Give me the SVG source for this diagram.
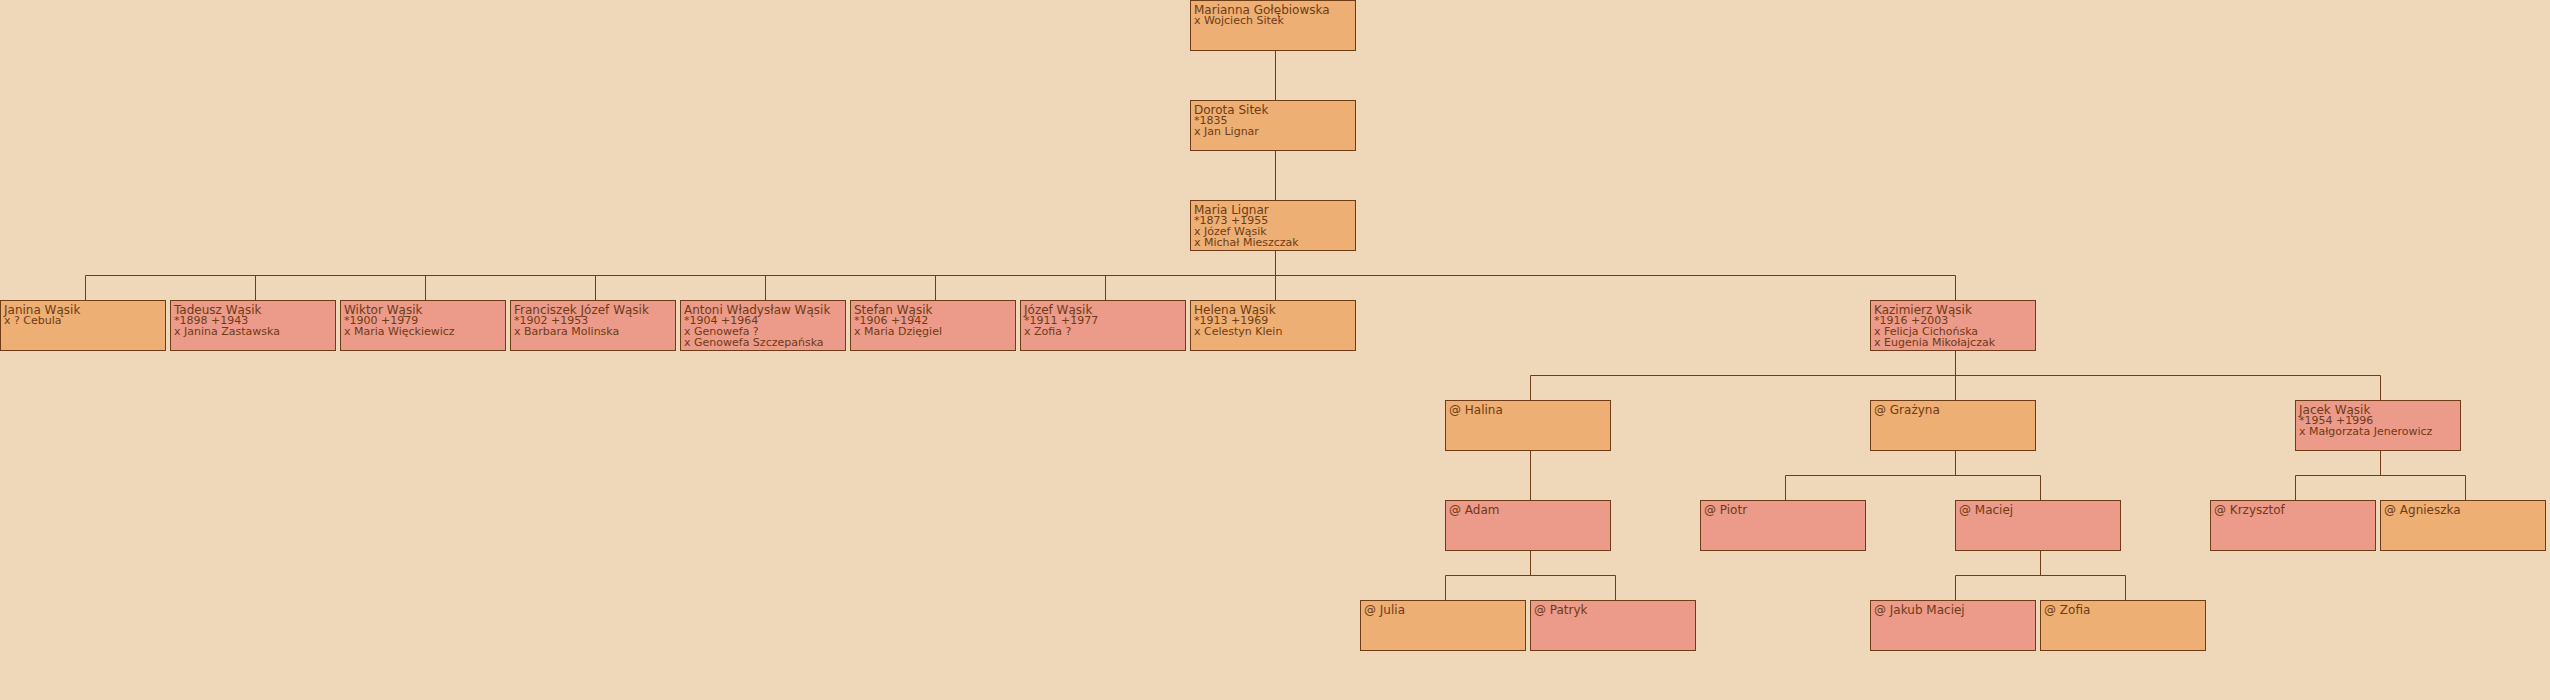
<svg xmlns="http://www.w3.org/2000/svg" width="2550" height="700" viewBox="0 0 2550 700">
<style>
.bg{fill:#EED8B9}
.n rect{stroke:#6E3C16;stroke-width:1}
.f rect{fill:#EDAF74}
.m rect{fill:#EC9A89}
.n text{font-family:"DejaVu Sans",sans-serif;fill:#6E3C16}
.t1{font-size:12px}
.t2{font-size:11px}
#connectors path{fill:none;stroke:#6E3C16;stroke-width:1}
</style>
<rect class="bg" x="0" y="0" width="2550" height="700"/>
<g id="connectors">
<path d="M1275.5 50.5V100.5M1275.5 150.5V200.5M1275.5 250.5V275.5"/>
<path d="M85.5 275.5H1955.5M85.5 275.5V300.5M255.5 275.5V300.5M425.5 275.5V300.5M595.5 275.5V300.5M765.5 275.5V300.5M935.5 275.5V300.5M1105.5 275.5V300.5M1275.5 275.5V300.5M1955.5 275.5V300.5"/>
<path d="M1955.5 350.5V375.5M1530.5 375.5H2380.5M1530.5 375.5V400.5M1955.5 375.5V400.5M2380.5 375.5V400.5"/>
<path d="M1530.5 450.5V500.5"/>
<path d="M1955.5 450.5V475.5M1785.5 475.5H2040.5M1785.5 475.5V500.5M2040.5 475.5V500.5"/>
<path d="M2380.5 450.5V475.5M2295.5 475.5H2465.5M2295.5 475.5V500.5M2465.5 475.5V500.5"/>
<path d="M1530.5 550.5V575.5M1445.5 575.5H1615.5M1445.5 575.5V600.5M1615.5 575.5V600.5"/>
<path d="M2040.5 550.5V575.5M1955.5 575.5H2125.5M1955.5 575.5V600.5M2125.5 575.5V600.5"/>
</g>
<g id="n-marianna" class="n f" transform="translate(1190,0)"><rect x="0.5" y="0.5" width="165" height="50"/><text class="t1" x="4" y="13.5">Marianna Gołębiowska</text><text class="t2" x="4" y="24">x Wojciech Sitek</text></g>
<g id="n-dorota" class="n f" transform="translate(1190,100)"><rect x="0.5" y="0.5" width="165" height="50"/><text class="t1" x="4" y="13.5">Dorota Sitek</text><text class="t2" x="4" y="24">*1835</text><text class="t2" x="4" y="35">x Jan Lignar</text></g>
<g id="n-maria" class="n f" transform="translate(1190,200)"><rect x="0.5" y="0.5" width="165" height="50"/><text class="t1" x="4" y="13.5">Maria Lignar</text><text class="t2" x="4" y="24">*1873 +1955</text><text class="t2" x="4" y="35">x Józef Wąsik</text><text class="t2" x="4" y="46">x Michał Mieszczak</text></g>
<g id="n-janina" class="n f" transform="translate(0,300)"><rect x="0.5" y="0.5" width="165" height="50"/><text class="t1" x="4" y="13.5">Janina Wąsik</text><text class="t2" x="4" y="24">x ? Cebula</text></g>
<g id="n-tadeusz" class="n m" transform="translate(170,300)"><rect x="0.5" y="0.5" width="165" height="50"/><text class="t1" x="4" y="13.5">Tadeusz Wąsik</text><text class="t2" x="4" y="24">*1898 +1943</text><text class="t2" x="4" y="35">x Janina Zastawska</text></g>
<g id="n-wiktor" class="n m" transform="translate(340,300)"><rect x="0.5" y="0.5" width="165" height="50"/><text class="t1" x="4" y="13.5">Wiktor Wąsik</text><text class="t2" x="4" y="24">*1900 +1979</text><text class="t2" x="4" y="35">x Maria Więckiewicz</text></g>
<g id="n-franciszek" class="n m" transform="translate(510,300)"><rect x="0.5" y="0.5" width="165" height="50"/><text class="t1" x="4" y="13.5">Franciszek Józef Wąsik</text><text class="t2" x="4" y="24">*1902 +1953</text><text class="t2" x="4" y="35">x Barbara Molinska</text></g>
<g id="n-antoni" class="n m" transform="translate(680,300)"><rect x="0.5" y="0.5" width="165" height="50"/><text class="t1" x="4" y="13.5">Antoni Władysław Wąsik</text><text class="t2" x="4" y="24">*1904 +1964</text><text class="t2" x="4" y="35">x Genowefa ?</text><text class="t2" x="4" y="46">x Genowefa Szczepańska</text></g>
<g id="n-stefan" class="n m" transform="translate(850,300)"><rect x="0.5" y="0.5" width="165" height="50"/><text class="t1" x="4" y="13.5">Stefan Wąsik</text><text class="t2" x="4" y="24">*1906 +1942</text><text class="t2" x="4" y="35">x Maria Dzięgiel</text></g>
<g id="n-jozef" class="n m" transform="translate(1020,300)"><rect x="0.5" y="0.5" width="165" height="50"/><text class="t1" x="4" y="13.5">Józef Wąsik</text><text class="t2" x="4" y="24">*1911 +1977</text><text class="t2" x="4" y="35">x Zofia ?</text></g>
<g id="n-helena" class="n f" transform="translate(1190,300)"><rect x="0.5" y="0.5" width="165" height="50"/><text class="t1" x="4" y="13.5">Helena Wąsik</text><text class="t2" x="4" y="24">*1913 +1969</text><text class="t2" x="4" y="35">x Celestyn Klein</text></g>
<g id="n-kazimierz" class="n m" transform="translate(1870,300)"><rect x="0.5" y="0.5" width="165" height="50"/><text class="t1" x="4" y="13.5">Kazimierz Wąsik</text><text class="t2" x="4" y="24">*1916 +2003</text><text class="t2" x="4" y="35">x Felicja Cichońska</text><text class="t2" x="4" y="46">x Eugenia Mikołajczak</text></g>
<g id="n-halina" class="n f" transform="translate(1445,400)"><rect x="0.5" y="0.5" width="165" height="50"/><text class="t1" x="4" y="13.5">@ Halina</text></g>
<g id="n-grazyna" class="n f" transform="translate(1870,400)"><rect x="0.5" y="0.5" width="165" height="50"/><text class="t1" x="4" y="13.5">@ Grażyna</text></g>
<g id="n-jacek" class="n m" transform="translate(2295,400)"><rect x="0.5" y="0.5" width="165" height="50"/><text class="t1" x="4" y="13.5">Jacek Wąsik</text><text class="t2" x="4" y="24">*1954 +1996</text><text class="t2" x="4" y="35">x Małgorzata Jenerowicz</text></g>
<g id="n-adam" class="n m" transform="translate(1445,500)"><rect x="0.5" y="0.5" width="165" height="50"/><text class="t1" x="4" y="13.5">@ Adam</text></g>
<g id="n-piotr" class="n m" transform="translate(1700,500)"><rect x="0.5" y="0.5" width="165" height="50"/><text class="t1" x="4" y="13.5">@ Piotr</text></g>
<g id="n-maciej" class="n m" transform="translate(1955,500)"><rect x="0.5" y="0.5" width="165" height="50"/><text class="t1" x="4" y="13.5">@ Maciej</text></g>
<g id="n-krzysztof" class="n m" transform="translate(2210,500)"><rect x="0.5" y="0.5" width="165" height="50"/><text class="t1" x="4" y="13.5">@ Krzysztof</text></g>
<g id="n-agnieszka" class="n f" transform="translate(2380,500)"><rect x="0.5" y="0.5" width="165" height="50"/><text class="t1" x="4" y="13.5">@ Agnieszka</text></g>
<g id="n-julia" class="n f" transform="translate(1360,600)"><rect x="0.5" y="0.5" width="165" height="50"/><text class="t1" x="4" y="13.5">@ Julia</text></g>
<g id="n-patryk" class="n m" transform="translate(1530,600)"><rect x="0.5" y="0.5" width="165" height="50"/><text class="t1" x="4" y="13.5">@ Patryk</text></g>
<g id="n-jakub" class="n m" transform="translate(1870,600)"><rect x="0.5" y="0.5" width="165" height="50"/><text class="t1" x="4" y="13.5">@ Jakub Maciej</text></g>
<g id="n-zofia" class="n f" transform="translate(2040,600)"><rect x="0.5" y="0.5" width="165" height="50"/><text class="t1" x="4" y="13.5">@ Zofia</text></g>
</svg>
